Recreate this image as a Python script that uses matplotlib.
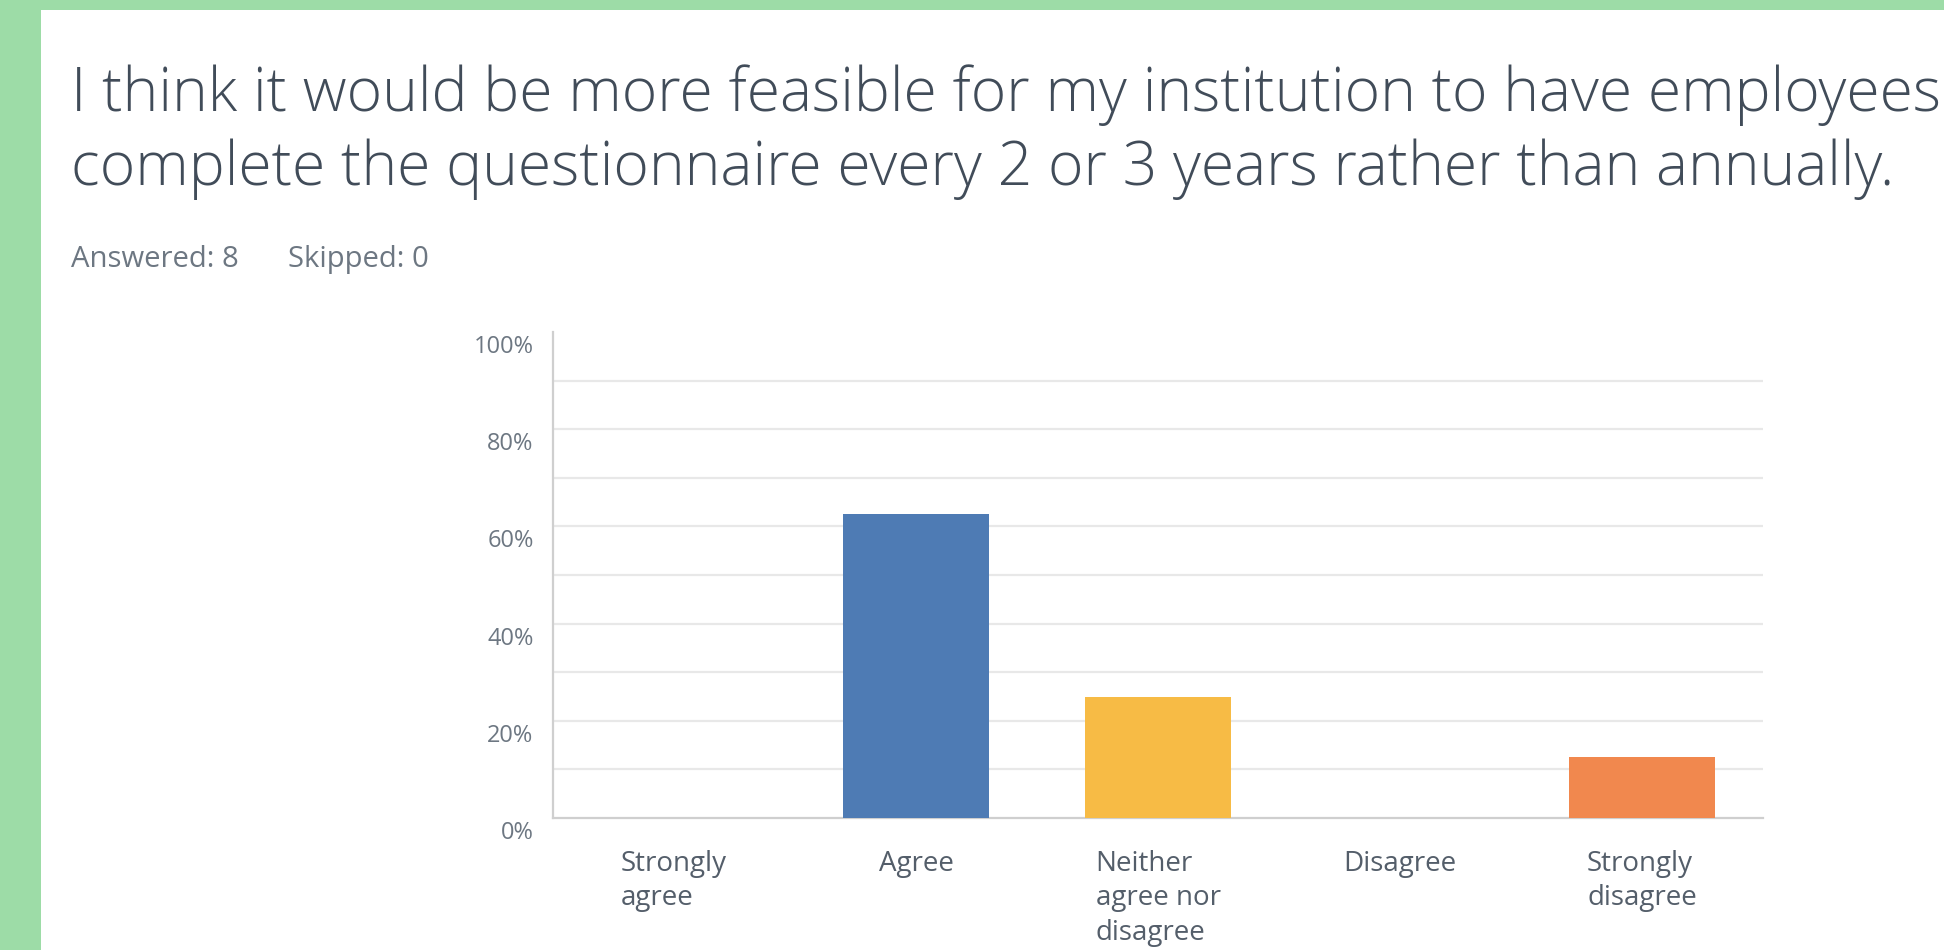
import numpy as np
import matplotlib
matplotlib.use("Agg")
import matplotlib.pyplot as plt
from matplotlib.patches import Rectangle
from matplotlib.transforms import ScaledTranslation

# data
categories = ["Strongly\nagree", "Agree", "Neither\nagree nor\ndisagree", "Disagree", "Strongly\ndisagree"]
percent = [0.0, 62.5, 25.0, 0.0, 12.5]
bar_colors = ["#4e7bb4", "#4e7bb4", "#f7bb45", "#d1d1d1", "#f1884e"]
y_ticks = [0, 20, 40, 60, 80, 100]
y_labels = ["0%", "20%", "40%", "60%", "80%", "100%"]
grid_levels = [10, 20, 30, 40, 50, 60, 70, 80, 90]

title_lines = ["I think it would be more feasible for my institution to have employees",
               "complete the questionnaire every 2 or 3 years rather than annually."]
answered = "Answered: 8"
skipped = "Skipped: 0"

W, H = 1944, 950
plt.rcParams["font.family"] = ["Open Sans", "DejaVu Sans"]


def fit_width(txt, target_px, renderer):
    # rescale the font so the text spans target_px
    w = txt.get_window_extent(renderer).width
    txt.set_fontsize(txt.get_fontsize() * target_px / w)


fig = plt.figure(figsize=(W / 100, H / 100), dpi=100, facecolor="#9ddca7")
fig.patches.append(Rectangle((41 / W, 0), 1 - 41 / W, 1 - 10 / H,
                             transform=fig.transFigure, facecolor="white",
                             edgecolor="none", zorder=-10))
renderer = fig.canvas.get_renderer()

titles = []
for i, line in enumerate(title_lines):
    t = fig.text(71 / W, 1 - (111 + 74 * i) / H, line, fontsize=40, fontweight="light",
                 color="#414c59", va="baseline", ha="left")
    titles.append(t)
fit_width(titles[1], 1820, renderer)
titles[0].set_fontsize(titles[1].get_fontsize())

t_ans = fig.text(71 / W, 1 - 267 / H, answered, fontsize=16, color="#6d7782", va="baseline")
fit_width(t_ans, 168, renderer)
fig.text(288 / W, 1 - 267 / H, skipped, fontsize=t_ans.get_fontsize(), color="#6d7782",
         va="baseline")

ax = fig.add_axes([553 / W, 132 / H, (1763 - 553) / W, (818 - 332) / H])
x = np.arange(len(categories))
ax.bar(x, percent, width=0.6, color=bar_colors, zorder=3)
ax.set_xlim(-0.5, len(categories) - 0.5)
ax.set_ylim(0, 100)

for g in grid_levels:
    ax.axhline(g, color="#e8e8e8", linewidth=1.6, zorder=1)

for side in ["top", "right"]:
    ax.spines[side].set_visible(False)
ax.spines["left"].set_color("#cfcfcf")
ax.spines["bottom"].set_color("#cfcfcf")
ax.spines["left"].set_linewidth(1.6)
ax.spines["bottom"].set_linewidth(1.6)

ax.set_yticks(y_ticks)
ax.set_yticklabels(y_labels, fontsize=17, color="#6d7782")
ax.tick_params(axis="y", length=0, pad=14)
shift = ScaledTranslation(0, -12 / 100, fig.dpi_scale_trans)
for lab in ax.get_yticklabels():
    lab.set_transform(lab.get_transform() + shift)

ax.set_xticks(x)
ax.set_xticklabels(categories, fontsize=20, color="#545e6a", linespacing=1.3)
ax.tick_params(axis="x", length=0, pad=23)
for lab in ax.get_xticklabels():
    lab.set_multialignment("left")

fig.savefig("out.png", dpi=100, facecolor=fig.get_facecolor())
